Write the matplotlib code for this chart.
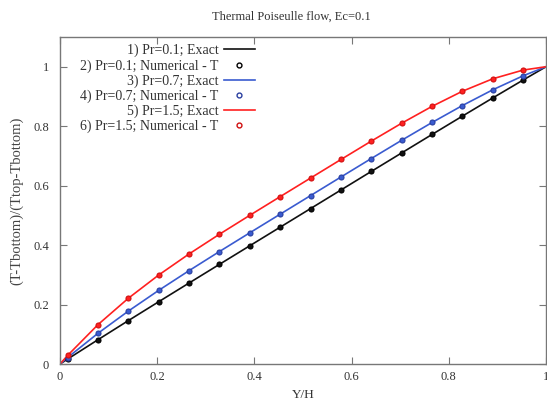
import matplotlib
matplotlib.use("Agg")
import matplotlib.pyplot as plt

# positions of the numerical nodes (Y/H)
y_nodes = [0.0156, 0.0781, 0.1406, 0.2031, 0.2656, 0.3281, 0.3906, 0.4531,
           0.5156, 0.5781, 0.6406, 0.7031, 0.7656, 0.8281, 0.8906, 0.9531]

# numerical values
t_pr01 = [0.0165, 0.0817, 0.1460, 0.2095, 0.2725, 0.3353, 0.3979, 0.4604,
          0.5229, 0.5854, 0.6479, 0.7102, 0.7723, 0.8340, 0.8952, 0.9555]
t_pr07 = [0.0217, 0.1033, 0.1780, 0.2478, 0.3141, 0.3784, 0.4415, 0.5041,
          0.5666, 0.6291, 0.6913, 0.7527, 0.8125, 0.8696, 0.9226, 0.9697]
t_pr15 = [0.0287, 0.1324, 0.2212, 0.2994, 0.3703, 0.4366, 0.5003, 0.5631,
          0.6256, 0.6880, 0.7499, 0.8101, 0.8668, 0.9177, 0.9596, 0.9889]

# exact curves: walls plus the same nodes
y_exact = [0.0] + y_nodes + [1.0]
e_pr01 = [0.0] + t_pr01 + [1.0]
e_pr07 = [0.0] + t_pr07 + [1.0]
e_pr15 = [0.0] + t_pr15 + [1.0]

labels = ["1) Pr=0.1; Exact", "2) Pr=0.1; Numerical - T",
          "3) Pr=0.7; Exact", "4) Pr=0.7; Numerical - T",
          "5) Pr=1.5; Exact", "6) Pr=1.5; Numerical - T"]
xticks = [0, 0.2, 0.4, 0.6, 0.8, 1]
xticklabels = ["0", "0.2", "0.4", "0.6", "0.8", "1"]
yticks = [0, 0.2, 0.4, 0.6, 0.8, 1]
yticklabels = ["0", "0.2", "0.4", "0.6", "0.8", "1"]

plt.rcParams['font.family'] = ['Liberation Serif', 'DejaVu Serif']
txt = '#333333'

fig = plt.figure(figsize=(5.47, 4.09), dpi=100)
ax = fig.add_axes([0.1097, 0.110, 0.8885, 0.7995])

cols = ['#111111', '#3a5bd0', '#ff2020']
edges = ['#000000', '#2a3fa0', '#d01010']
exacts = [e_pr01, e_pr07, e_pr15]
nums = [t_pr01, t_pr07, t_pr15]
handles = []
for c, ec, e, n in zip(cols, edges, exacts, nums):
    l, = ax.plot(y_exact, e, color=c, lw=1.2, zorder=2)
    ax.plot(y_nodes, n, ls='none', marker='o', ms=3.6, mfc=c, mec=ec, mew=0.8, zorder=3)
    h, = ax.plot([], [], ls='none', marker='o', ms=3.5, mfc='none', mec=ec, mew=1.0)
    handles += [l, h]

ax.set_xlim(0, 1)
ax.set_ylim(0, 1.1)
ax.set_xticks(xticks)
ax.set_xticklabels(xticklabels)
ax.set_yticks(yticks)
ax.set_yticklabels(yticklabels)
ax.tick_params(direction='in', top=True, right=True, length=5, width=0.8,
               colors='#777777', labelcolor=txt, labelsize=9)
ax.tick_params(axis='x', pad=5)
ax.tick_params(axis='y', pad=8)
for s in ax.spines.values():
    s.set_color('#777777')
    s.set_linewidth(1.0)

fig.text(291 / 547, 1 - 17 / 409, "Thermal Poiseulle flow, Ec=0.1", fontsize=9,
         color=txt, ha='center', va='center')
ax.set_xlabel("Y/H", fontsize=9.5, color=txt, labelpad=4)
ax.set_ylabel("(T-Tbottom)/(Ttop-Tbottom)", fontsize=10.5, color='#444444', labelpad=7)

leg = ax.legend(handles, labels, loc='upper right', bbox_to_anchor=(0.415, 1.0),
                markerfirst=False, frameon=False, fontsize=10, labelspacing=0.12,
                handlelength=2.2, handletextpad=0.4, borderaxespad=0.0,
                borderpad=0.5)
for t in leg.get_texts():
    t.set_color(txt)

fig.savefig("out.png", dpi=100)
